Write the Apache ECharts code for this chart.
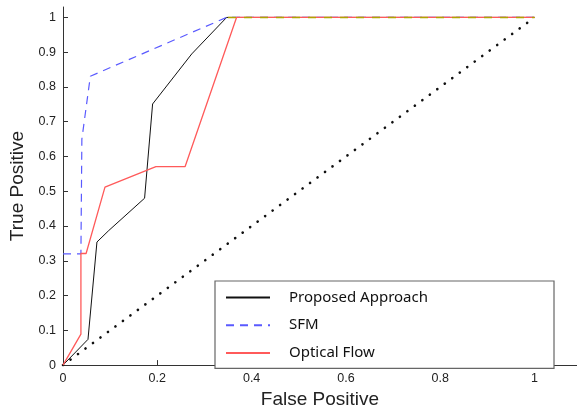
<!DOCTYPE html>
<html><head><meta charset="utf-8">
<script src="https://cdn.jsdelivr.net/npm/echarts@6/dist/echarts.min.js"></script>
<style>html,body{margin:0;padding:0;background:#fff}#c{width:577px;height:414px}</style>
</head><body><div id="c"></div>
<script>
var proposedX = [0, 0.053, 0.072, 0.097, 0.173, 0.190, 0.273, 0.347, 1];
var proposedY = [0, 0.074, 0.354, 0.387, 0.480, 0.751, 0.895, 1.0, 1.0];
var sfmX = [0, 0.038, 0.040, 0.058, 0.347, 1];
var sfmY = [0.32, 0.32, 0.65, 0.831, 1.0, 1.0];
var flowX = [0, 0.038, 0.038, 0.049, 0.089, 0.197, 0.259, 0.368, 1];
var flowY = [0, 0.089, 0.321, 0.321, 0.512, 0.571, 0.571, 1.0, 1.0];
var chanceX = [0, 1];
var chanceY = [0, 1];
var overlapX = [0.35, 1];
var overlapY = [1, 1];
var xTicks = [0, 0.2, 0.4, 0.6, 0.8, 1];
var yTicks = [0, 0.1, 0.2, 0.3, 0.4, 0.5, 0.6, 0.7, 0.8, 0.9, 1];
var names = ['Proposed Approach', 'SFM', 'Optical Flow'];

function pairs(xs, ys) { return xs.map(function (x, i) { return [x, ys[i]]; }); }
function fmt(v) { return String(+v.toFixed(2)); }

var chart = echarts.init(document.getElementById('c'), null, {renderer: 'canvas'});
chart.setOption({
  animation: false,
  backgroundColor: '#fff',
  grid: {left: 61, top: 7, right: 0, bottom: 42},
  xAxis: {
    type: 'value', min: 0, max: 1.09, interval: 0.2,
    name: 'False Positive', nameLocation: 'middle', nameGap: 23,
    nameTextStyle: {fontFamily: 'Liberation Sans', fontSize: 19, color: '#222'},
    axisLine: {show: true, onZero: false, lineStyle: {color: '#333', width: 1}},
    axisTick: {show: true, inside: true, length: 5, lineStyle: {color: '#333'}},
    axisLabel: {fontFamily: 'Liberation Sans', fontSize: 12.5, color: '#222', margin: 7, showMaxLabel: false,
      formatter: function (v) { return xTicks.indexOf(+v.toFixed(2)) >= 0 ? fmt(v) : ''; }},
    splitLine: {show: false}
  },
  yAxis: {
    type: 'value', min: 0, max: 1.03, interval: 0.1,
    name: 'True Positive', nameLocation: 'middle', nameGap: 36,
    nameTextStyle: {fontFamily: 'Liberation Sans', fontSize: 19, color: '#222'},
    axisLine: {show: true, onZero: false, lineStyle: {color: '#333', width: 1}},
    axisTick: {show: true, inside: true, length: 5, lineStyle: {color: '#333'}},
    axisLabel: {fontFamily: 'Liberation Sans', fontSize: 12.5, color: '#222', margin: 7, showMaxLabel: false,
      formatter: function (v) { return yTicks.indexOf(+v.toFixed(2)) >= 0 ? fmt(v) : ''; }},
    splitLine: {show: false}
  },
  legend: {
    data: names,
    orient: 'vertical', left: 215, top: 281,
    backgroundColor: '#fff', borderColor: '#666', borderWidth: 1.2,
    padding: [9, 126, 8, 10],
    itemWidth: 44, itemHeight: 14, itemGap: 12.7,
    itemStyle: {opacity: 0},
    textStyle: {fontFamily: 'Noto Sans', fontSize: 15, color: '#111', padding: [0, 0, 0, 14]}
  },
  series: [
    {name: 'chance', type: 'line', data: pairs(chanceX, chanceY), showSymbol: false, symbol: 'none', silent: true,
      lineStyle: {color: '#111', width: 2.6, type: [0.1, 9.2], cap: 'round'}, z: 1},
    {name: names[0], type: 'line', data: pairs(proposedX, proposedY), showSymbol: false, symbol: 'none',
      lineStyle: {color: '#111', width: 1}, itemStyle: {color: '#111'}, z: 3},
    {name: names[1], type: 'line', data: pairs(sfmX, sfmY), showSymbol: false, symbol: 'none',
      lineStyle: {color: '#5a5aff', width: 1.2, type: [8, 6]}, itemStyle: {color: '#5a5aff'}, z: 4},
    {name: names[2], type: 'line', data: pairs(flowX, flowY), showSymbol: false, symbol: 'none',
      lineStyle: {color: '#ff5a5a', width: 1.3}, itemStyle: {color: '#ff5a5a'}, z: 5},
    {name: 'overlap', type: 'line', data: pairs(overlapX, overlapY), showSymbol: false, symbol: 'none', silent: true,
      lineStyle: {color: '#b0a400', width: 1.5, type: [8, 8]}, z: 6}
  ]
});
</script>
</body></html>
